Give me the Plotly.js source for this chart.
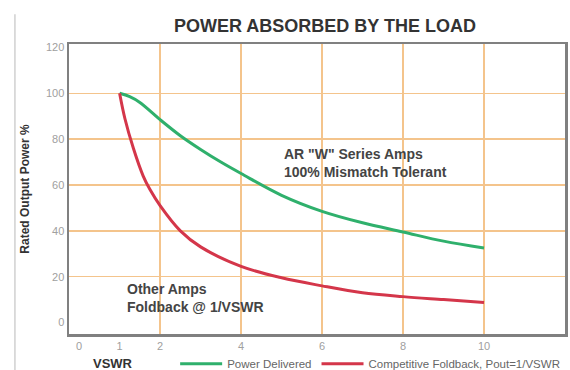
<!DOCTYPE html>
<html>
<head>
<meta charset="utf-8">
<script src="https://cdn.plot.ly/plotly-3.0.1.min.js"></script>
<style>html,body{margin:0;padding:0;background:#fff;}#chart{width:570px;height:370px;}</style>
</head>
<body>
<div id="chart"></div>
<script>
// VSWR values and power (% of rated output)
var vswrGreen = [1, 1.25, 1.5, 2, 2.5, 3, 3.5, 4, 5, 6, 7, 8, 9, 10];
var powerDelivered = [100, 98.5, 96, 88.5, 81.5, 75.5, 70, 65, 55.5, 48.5, 43.5, 39.5, 35.5, 32.5];
var vswrRed = [1, 1.13, 1.34, 1.58, 1.75, 2, 2.5, 3, 4, 5, 6, 7, 8, 9, 10];
var foldbackPower = [100, 89, 76, 64, 58, 51, 40, 33, 24.5, 19.5, 16, 13, 11.3, 10, 8.7];
var xTickVals = [0, 1, 2, 4, 6, 8, 10, 12];
var xGridVals = [2, 4, 6, 8, 10];
var yTickVals = [0, 20, 40, 60, 80, 100, 120];
var yGridVals = [20, 40, 60, 80, 100];
var seriesNames = ["Power Delivered", "Competitive Foldback, Pout=1/VSWR"];

var traces = [
  {x: vswrGreen, y: powerDelivered, name: seriesNames[0], mode: "lines",
   line: {color: "#2fb06c", width: 3, shape: "spline"}},
  {x: vswrRed, y: foldbackPower, name: seriesNames[1], mode: "lines",
   line: {color: "#d4364a", width: 3, shape: "spline"}}
];

var gridColor = "#f4c48c";
var layout = {
  width: 570, height: 370,
  margin: {l: 69, r: 5, t: 44, b: 36, autoexpand: false},
  paper_bgcolor: "#fff", plot_bgcolor: "#fff",
  font: {family: "Liberation Sans, Arial, sans-serif"},
  title: {text: "<b>POWER ABSORBED BY THE LOAD</b>", font: {size: 18, color: "#333"},
          xref: "paper", x: 0.516, xanchor: "center", yref: "container", y: 0.93, yanchor: "middle"},
  xaxis: {range: [-0.25, 12], tickmode: "array", tickvals: xTickVals, showgrid: false, zeroline: false,
          showline: true, mirror: true, linecolor: "#808080", linewidth: 2.5, ticks: "",
          tickfont: {size: 11, color: "#a0a0a0"},
          minor: {tickmode: "array", tickvals: xGridVals, showgrid: true, gridcolor: gridColor, gridwidth: 1.5, ticks: ""}},
  yaxis: {range: [-5, 121.5], tickmode: "array", tickvals: yTickVals, showgrid: false, zeroline: false,
          showline: true, mirror: true, linecolor: "#808080", linewidth: 2.5, ticks: "",
          tickfont: {size: 11, color: "#a0a0a0"},
          title: {text: "<b>Rated Output Power %</b>", font: {size: 12, color: "#333"}, standoff: 14},
          minor: {tickmode: "array", tickvals: yGridVals, showgrid: true, gridcolor: gridColor, gridwidth: 1.5, ticks: ""}},
  showlegend: true,
  legend: {orientation: "h", x: 0.214, xanchor: "left", y: -0.103, yanchor: "middle",
           font: {size: 11.5, color: "#666"}, itemwidth: 42, bgcolor: "rgba(0,0,0,0)"},
  annotations: [
    {x: 5.0, y: 69.4, xref: "x", yref: "y", xanchor: "left", yanchor: "middle", align: "left", showarrow: false,
     text: "<b>AR \"W\" Series Amps<br>100% Mismatch Tolerant</b>", font: {size: 14, color: "#444"}},
    {x: 1.13, y: 10.5, xref: "x", yref: "y", xanchor: "left", yanchor: "middle", align: "left", showarrow: false,
     text: "<b>Other Amps<br>Foldback @ 1/VSWR</b>", font: {size: 14, color: "#444"}},
    {x: 0.089, y: -0.1, xref: "paper", yref: "paper", xanchor: "center", yanchor: "middle", showarrow: false,
     text: "<b>VSWR</b>", font: {size: 13, color: "#333"}}
  ],
  shapes: [
    {type: "line", xref: "paper", yref: "paper", x0: -0.109, x1: -0.109, y0: 1.103, y1: -0.13,
     line: {color: "#d0d0d0", width: 1.5}}
  ]
};

Plotly.newPlot("chart", traces, layout, {displayModeBar: false, staticPlot: true});
</script>
</body>
</html>
